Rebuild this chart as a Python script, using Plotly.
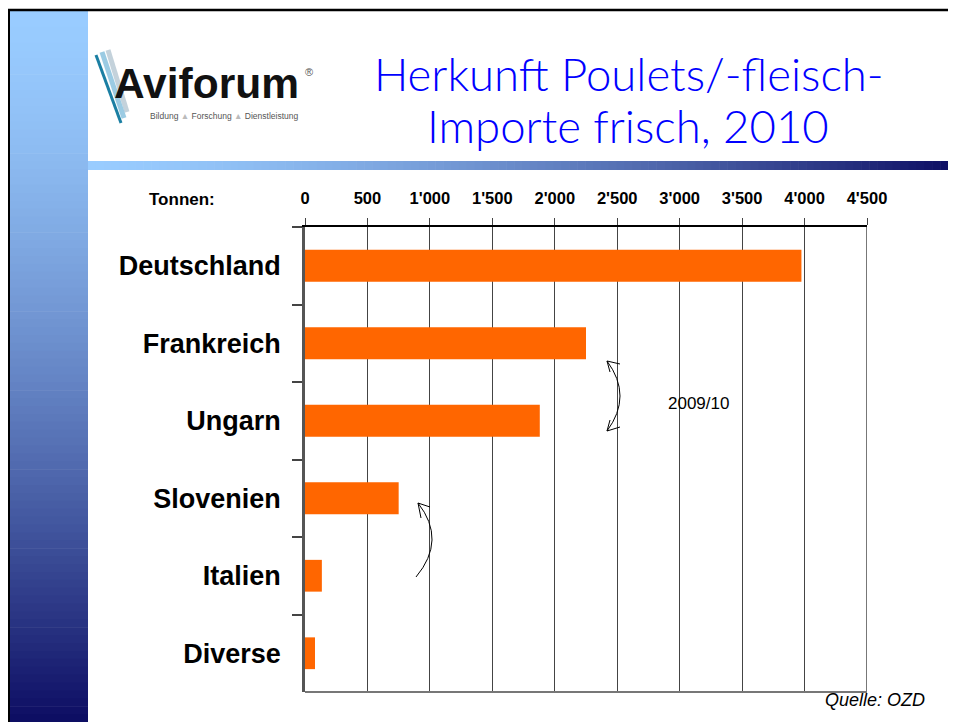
import plotly.graph_objects as go

# ---------------- data ----------------
countries = ["Deutschland", "Frankreich", "Ungarn", "Slovenien", "Italien", "Diverse"]
tonnen = [3975, 2250, 1880, 750, 135, 80]
tick_values = [0, 500, 1000, 1500, 2000, 2500, 3000, 3500, 4000, 4500]
tick_labels = ["0", "500", "1'000", "1'500", "2'000", "2'500", "3'000", "3'500", "4'000", "4'500"]

title_line1 = "Herkunft Poulets/-fleisch-"
title_line2 = "Importe frisch, 2010"
unit_label = "Tonnen:"
period_note = "2009/10"
source_note = "Quelle: OZD"

# ---------------- geometry helpers ----------------
OFF = 8  # page body margin in the browser
W, H = 956 - OFF, 722 - OFF
L, R, T, B = 305, 867, 227, 692  # plot area in page pixels


def px(x):
    return (x - L) / (R - L)


def py(y):
    return (B - y) / (B - T)


def lerp(c0, c1, t):
    return "rgb(%d,%d,%d)" % tuple(round(a + (b - a) * t) for a, b in zip(c0, c1))


shapes = []
light = (153, 204, 255)
dark = (12, 12, 98)

# left vertical gradient bar
n = 90
y0, y1 = 11, 722
for i in range(n):
    ya = y0 + (y1 - y0) * i / n
    yb = y0 + (y1 - y0) * (i + 1) / n + 0.6
    t = ((i + 0.5) / n) ** 1.5
    shapes.append(dict(type="rect", xref="paper", yref="paper", layer="below",
                       x0=px(10), x1=px(88), y0=py(ya), y1=py(yb),
                       fillcolor=lerp(light, dark, t), line=dict(width=0)))
# horizontal gradient bar
n = 110
x0, x1 = 88, 956
for i in range(n):
    xa = x0 + (x1 - x0) * i / n
    xb = x0 + (x1 - x0) * (i + 1) / n + 0.6
    t = ((i + 0.5) / n) ** 1.5
    shapes.append(dict(type="rect", xref="paper", yref="paper", layer="below",
                       x0=px(xa), x1=px(xb), y0=py(161), y1=py(170),
                       fillcolor=lerp(light, dark, t), line=dict(width=0)))
# slide border
shapes.append(dict(type="line", xref="paper", yref="paper", x0=px(7), x1=px(956),
                   y0=py(10), y1=py(10), line=dict(color="black", width=2.5)))
shapes.append(dict(type="line", xref="paper", yref="paper", x0=px(8.5), x1=px(8.5),
                   y0=py(10), y1=py(722), line=dict(color="black", width=3)))

# logo strokes
for (xa, ya, xb, yb, col, w) in [
    (108, 50, 127, 112, "rgba(190,205,215,0.9)", 5),
    (102, 52, 124, 118, "rgba(150,200,225,0.95)", 5),
    (96, 55, 121, 123, "#1b7fa3", 3),
]:
    shapes.append(dict(type="line", xref="paper", yref="paper", x0=px(xa), y0=py(ya),
                       x1=px(xb), y1=py(yb), line=dict(color=col, width=w)))

# bottom frame line and right edge line of the plot area
shapes.append(dict(type="line", xref="paper", yref="paper", x0=0, x1=1, y0=0, y1=0,
                   line=dict(color="#777777", width=2)))
shapes.append(dict(type="line", xref="x", yref="paper", x0=tick_values[-1], x1=tick_values[-1],
                   y0=0, y1=1, line=dict(color="#777777", width=2)))


def curve(p0, c, p1):
    return "M %f,%f Q %f,%f %f,%f" % (px(p0[0]), py(p0[1]), px(c[0]), py(c[1]), px(p1[0]), py(p1[1]))


def seg(a, b):
    return dict(type="line", xref="paper", yref="paper", x0=px(a[0]), y0=py(a[1]),
                x1=px(b[0]), y1=py(b[1]), line=dict(color="black", width=1))


# double arrow between Frankreich and Ungarn
shapes.append(dict(type="path", xref="paper", yref="paper",
                   path=curve((607, 361), (633, 396), (607, 431)),
                   line=dict(color="black", width=1)))
shapes += [seg((607, 361), (620, 364)), seg((607, 361), (610, 372)),
           seg((607, 431), (620, 427)), seg((607, 431), (610, 420))]
# arrow Italien -> Slovenien
shapes.append(dict(type="path", xref="paper", yref="paper",
                   path=curve((416, 577), (447, 540), (418, 503)),
                   line=dict(color="black", width=1)))
shapes += [seg((418, 503), (430, 507)), seg((418, 503), (421, 518))]

annotations = [
    dict(text=title_line1, x=px(629), y=py(74), xref="paper", yref="paper",
         xanchor="center", yanchor="middle", showarrow=False,
         font=dict(family="Lato, DejaVu Sans, sans-serif", size=45.5, color="#0000ff", weight=300)),
    dict(text=title_line2, x=px(628), y=py(125), xref="paper", yref="paper",
         xanchor="center", yanchor="middle", showarrow=False,
         font=dict(family="Lato, DejaVu Sans, sans-serif", size=45.5, color="#0000ff", weight=300)),
    dict(text="Aviforum", x=px(112), y=py(84), xref="paper", yref="paper",
         xanchor="left", yanchor="middle", showarrow=False,
         font=dict(family="Liberation Sans, Arial, sans-serif", size=42.5, color="#111111", weight="bold")),
    dict(text="®", x=px(309), y=py(72), xref="paper", yref="paper",
         xanchor="center", yanchor="middle", showarrow=False,
         font=dict(family="Liberation Sans, Arial, sans-serif", size=11, color="#555555")),
    dict(text="Bildung <span style='color:#bbbbbb'>▲</span> Forschung <span style='color:#bbbbbb'>▲</span> Dienstleistung",
         x=px(224), y=py(116), xref="paper", yref="paper",
         xanchor="center", yanchor="middle", showarrow=False,
         font=dict(family="Liberation Sans, Arial, sans-serif", size=8.5, color="#555555")),
    dict(text=unit_label, x=px(182), y=py(200), xref="paper", yref="paper",
         xanchor="center", yanchor="middle", showarrow=False,
         font=dict(family="Liberation Sans, Arial, sans-serif", size=17, color="black", weight="bold")),
    dict(text=period_note, x=px(698), y=py(403), xref="paper", yref="paper",
         xanchor="center", yanchor="middle", showarrow=False,
         font=dict(family="Liberation Sans, Arial, sans-serif", size=17, color="black")),
    dict(text=source_note, x=px(927), y=py(700), xref="paper", yref="paper",
         xanchor="right", yanchor="middle", showarrow=False,
         font=dict(family="Liberation Sans, Arial, sans-serif", size=18, color="black", style="italic")),
]

fig = go.Figure(go.Bar(
    x=tonnen, y=countries, orientation="h",
    marker=dict(color="#ff6600", line=dict(width=0)),
    hoverinfo="skip",
))

fig.update_layout(
    width=W, height=H, autosize=False,
    margin=dict(l=L - OFF, r=956 - R, t=T - OFF, b=722 - B, pad=0),
    paper_bgcolor="white", plot_bgcolor="rgba(0,0,0,0)",
    showlegend=False, bargap=0.59,
    shapes=shapes, annotations=annotations,
    xaxis=dict(
        side="top", range=[tick_values[0], tick_values[-1]],
        tickmode="array", tickvals=tick_values, ticktext=tick_labels,
        tickfont=dict(family="Liberation Sans, Arial, sans-serif", size=16.5, color="black", weight="bold"),
        showgrid=True, gridcolor="#444444", gridwidth=1.1,
        showline=True, linecolor="black", linewidth=1.5,
        ticks="outside", ticklen=7, tickcolor="#444444", tickwidth=1.2,
        ticklabelstandoff=8, zeroline=False, fixedrange=True,
    ),
    yaxis=dict(
        type="category", categoryorder="array", categoryarray=countries,
        autorange="reversed", tickson="boundaries",
        tickfont=dict(family="Liberation Sans, Arial, sans-serif", size=27, color="black", weight="bold"),
        ticks="outside", ticklen=10, tickcolor="#444444", tickwidth=1.5,
        showline=True, linecolor="#555555", linewidth=2.5,
        showgrid=False, zeroline=False, ticklabelstandoff=16, fixedrange=True,
    ),
)

fig.write_html("out.html")
